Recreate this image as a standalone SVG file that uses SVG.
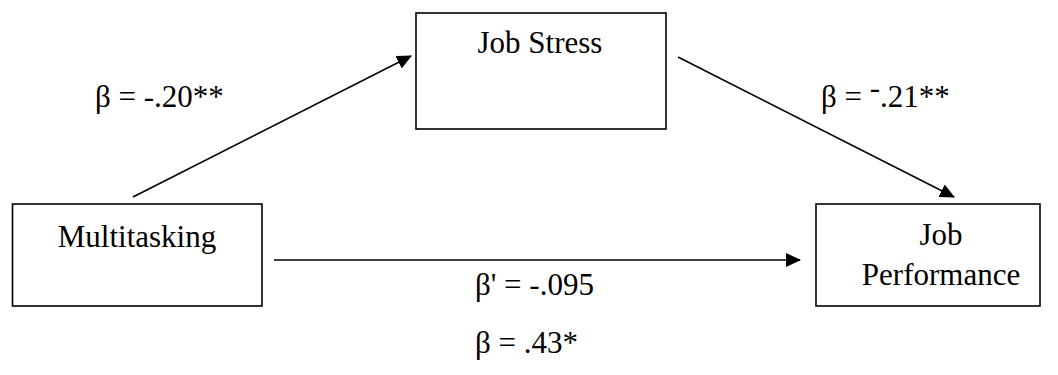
<svg xmlns="http://www.w3.org/2000/svg" width="1058" height="375" viewBox="0 0 1058 375">
  <style>
    .box { fill: #ffffff; stroke: #000000; stroke-width: 1.6; }
    .lbl { font-family: 'Liberation Serif', 'Times New Roman', Times, 'DejaVu Serif', serif; font-size: 31px; fill: #000000; }
    .edge { stroke: #000000; stroke-width: 1.6; fill: none; marker-end: url(#arrow); }
  </style>
  <defs>
    <marker id="arrow" markerUnits="userSpaceOnUse" markerWidth="16" markerHeight="15" refX="14" refY="7" orient="auto">
      <path d="M0,0 L15,7 L0,14 z" fill="#000000"/>
    </marker>
  </defs>
  <rect width="1058" height="375" fill="#ffffff"/>

  <g id="connectors">
    <line class="edge" x1="133" y1="197" x2="411" y2="56"/>
    <line class="edge" x1="678" y1="57" x2="954" y2="197"/>
    <line class="edge" x1="274" y1="260" x2="800" y2="260"/>
  </g>

  <g id="node-job-stress">
    <rect class="box" x="416" y="13" width="250" height="116"/>
    <text class="lbl" x="540" y="53" text-anchor="middle" font-family="Liberation Serif, DejaVu Serif, serif">Job Stress</text>
  </g>

  <g id="node-multitasking">
    <rect class="box" x="12.5" y="204" width="249.5" height="102"/>
    <text class="lbl" x="137" y="247" text-anchor="middle">Multitasking</text>
  </g>

  <g id="node-job-performance">
    <rect class="box" x="816" y="204" width="224" height="102"/>
    <text class="lbl" x="941" y="245" text-anchor="middle">Job</text>
    <text class="lbl" x="941" y="285" text-anchor="middle">Performance</text>
  </g>

  <g id="labels">
    <text class="lbl" x="95" y="107">β = -.20**</text>
    <text class="lbl" x="821" y="107">β = <tspan dy="-9">-</tspan><tspan dy="9">.21**</tspan></text>
    <text class="lbl" x="475" y="295">β' = -.095</text>
    <text class="lbl" x="475" y="353">β = .43*</text>
  </g>
</svg>
